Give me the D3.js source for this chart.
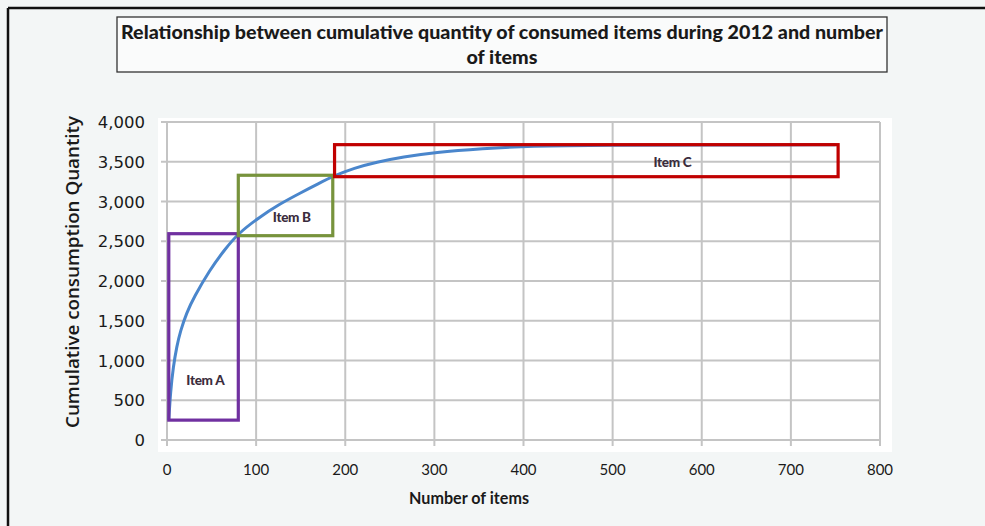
<!DOCTYPE html>
<html>
<head>
<meta charset="utf-8">
<script src="https://cdn.jsdelivr.net/npm/d3@7"></script>
<style>
  body { margin: 0; background: #f3f6f6; }
  svg { display: block; }
</style>
</head>
<body>
<div id="chart"></div>
<script>
// curve
const itemsX = [2, 4, 7, 11, 15, 22, 30, 48, 65, 80, 104, 125, 150, 170, 187, 210, 235, 265, 300, 355, 404, 500, 600, 750];
const cumQty = [250, 610, 920, 1180, 1370, 1600, 1790, 2140, 2400, 2600, 2805, 2960, 3110, 3225, 3320, 3420, 3495, 3560, 3618, 3668, 3697, 3708, 3711, 3713];

const xTicks = [0, 100, 200, 300, 400, 500, 600, 700, 800];
const yTicks = [0, 500, 1000, 1500, 2000, 2500, 3000, 3500, 4000];

// class boxes: [x0, x1, y0, y1]
const boxNames = ["Item A", "Item B", "Item C"];
const boxExtents = [[2, 80, 250, 2595], [80, 186, 2570, 3330], [188, 753, 3312, 3715]];
const boxColors = ["#7030a0", "#77933c", "#c00000"];
const labelPos = [[43, 756], [140, 2809], [567, 3501]];

const W = 985, H = 526;
const svg = d3.select("#chart").append("svg")
  .attr("width", W).attr("height", H);

// outer frame
svg.append("rect").attr("x", 0).attr("y", 0).attr("width", W).attr("height", H).attr("fill", "#f3f6f6");
svg.append("line").attr("x1", 8).attr("x2", W).attr("y1", 8).attr("y2", 8)
  .attr("stroke", "#111").attr("stroke-width", 2.5);
svg.append("line").attr("x1", 8).attr("x2", 8).attr("y1", 8).attr("y2", H)
  .attr("stroke", "#111").attr("stroke-width", 2.5);

// title box
svg.append("rect").attr("x", 117).attr("y", 17).attr("width", 770).attr("height", 55)
  .attr("fill", "#fafbfb").attr("stroke", "#333").attr("stroke-width", 1.3);
svg.append("text").attr("x", 502).attr("y", 39)
  .attr("text-anchor", "middle")
  .attr("textLength", 762).attr("lengthAdjust", "spacingAndGlyphs")
  .style("font-family", "Lato, 'Open Sans', sans-serif").style("font-weight", "900")
  .style("font-size", "19px").attr("fill", "#1a1a1a")
  .text("Relationship between cumulative quantity of consumed items during 2012 and number");
svg.append("text").attr("x", 502).attr("y", 64)
  .attr("text-anchor", "middle")
  .attr("textLength", 71).attr("lengthAdjust", "spacingAndGlyphs")
  .style("font-family", "Lato, 'Open Sans', sans-serif").style("font-weight", "900")
  .style("font-size", "19px").attr("fill", "#1a1a1a")
  .text("of items");

// plot area
svg.append("rect").attr("x", 158).attr("y", 118).attr("width", 734).attr("height", 334)
  .attr("fill", "#fff");

const x = d3.scaleLinear().domain([0, 800]).range([167, 880]);
const y = d3.scaleLinear().domain([0, 4000]).range([440, 122]);

// grid
svg.append("g").selectAll("line").data(xTicks).join("line")
  .attr("x1", d => x(d)).attr("x2", d => x(d))
  .attr("y1", y(4000)).attr("y2", y(0) + 6)
  .attr("stroke", "#c4c4c4").attr("stroke-width", 2);
svg.append("g").selectAll("line").data(yTicks).join("line")
  .attr("x1", x(0) - 6).attr("x2", x(800))
  .attr("y1", d => y(d)).attr("y2", d => y(d))
  .attr("stroke", "#c4c4c4").attr("stroke-width", 2);

// tick labels
svg.append("g").selectAll("text").data(yTicks).join("text")
  .attr("x", 145).attr("y", d => y(d) + 6)
  .attr("text-anchor", "end")
  .style("font-family", "'DejaVu Sans', sans-serif").style("font-size", "16.5px").attr("fill", "#1a1a1a")
  .text(d => d3.format(",")(d));
svg.append("g").selectAll("text").data(xTicks).join("text")
  .attr("x", d => x(d)).attr("y", 475)
  .attr("text-anchor", "middle")
  .style("font-family", "Lato, sans-serif").style("font-size", "15px").attr("fill", "#1a1a1a")
  .text(d => d);

// axis titles
svg.append("text").attr("transform", "translate(79,272) rotate(-90)")
  .attr("text-anchor", "middle")
  .attr("textLength", 312).attr("lengthAdjust", "spacingAndGlyphs")
  .style("font-family", "'Open Sans', sans-serif").style("font-weight", "600").style("font-size", "18px")
  .attr("fill", "#1a1a1a")
  .text("Cumulative consumption Quantity");
svg.append("text").attr("x", 469).attr("y", 504)
  .attr("text-anchor", "middle")
  .attr("textLength", 120).attr("lengthAdjust", "spacingAndGlyphs")
  .style("font-family", "Lato, sans-serif").style("font-weight", "bold").style("font-size", "17px")
  .attr("fill", "#1a1a1a")
  .text("Number of items");

// curve
const line = d3.line().x(d => x(d[0])).y(d => y(d[1])).curve(d3.curveBasis);
svg.append("path").datum(d3.zip(itemsX, cumQty))
  .attr("d", line).attr("fill", "none")
  .attr("stroke", "#4a86cc").attr("stroke-width", 3);

// boxes
boxExtents.forEach((b, i) => {
  svg.append("rect")
    .attr("x", x(b[0])).attr("y", y(b[3]))
    .attr("width", x(b[1]) - x(b[0])).attr("height", y(b[2]) - y(b[3]))
    .attr("fill", "none").attr("stroke", boxColors[i]).attr("stroke-width", 3.2);
  svg.append("text")
    .attr("x", x(labelPos[i][0])).attr("y", y(labelPos[i][1]) + 5)
    .attr("text-anchor", "middle")
    .style("font-family", "Lato, sans-serif").style("font-weight", "900").style("font-size", "13.5px")
    .style("letter-spacing", "-0.3px")
    .attr("fill", "#3b2d3d")
    .text(boxNames[i]);
});
</script>
</body>
</html>
